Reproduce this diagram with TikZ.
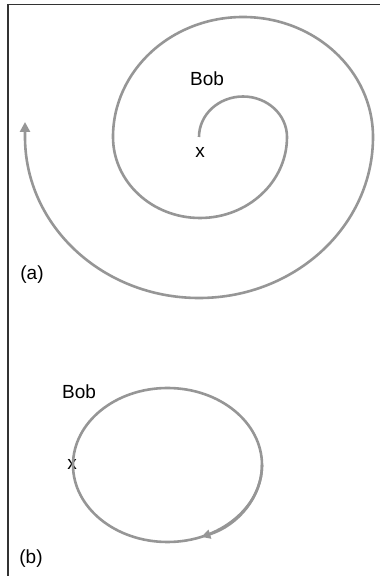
\documentclass[tikz,border=0pt]{standalone}
\usepackage{fontspec}
\setmainfont{Liberation Sans}
\usepackage{xcolor}
\usetikzlibrary{arrows.meta,positioning}

\definecolor{trackgray}{RGB}{150,150,150}

\begin{document}
\begin{tikzpicture}[
    x=1pt, y=1pt,
    every node/.style={font=\fontsize{19}{22}\selectfont, inner sep=0pt},
    track/.style={draw=trackgray, line width=2.6pt},
    frameline/.style={draw=black!80, line width=1.8pt}
]
    \useasboundingbox (0,0) rectangle (380,576);

    % Frame
    \draw[frameline] (8,0) -- (8,571.5) -- (380,571.5);

    % (a) spiral path
    \coordinate (starta) at (199,439);
    \node (boba) at (207,497) {Bob};
    \node (xa) at (200,424) {x};
    \node (labela) at (32,301) {(a)};
    \draw[track, -{Triangle[length=10pt,width=10pt]}] (starta)
        arc[start angle=180, end angle=0, x radius=44, y radius=40.5]
        arc[start angle=0, end angle=-180, x radius=87, y radius=81]
        arc[start angle=180, end angle=0, x radius=130, y radius=120]
        arc[start angle=0, end angle=-180, x radius=174, y radius=161]
        -- ++(0,15);

    % (b) closed orbit
    \coordinate (centerb) at (167.5,111);
    \node (bobb) at (79,184) {Bob};
    \node (xb) at (72,112) {x};
    \node (labelb) at (31,17) {(b)};
    \draw[track] (centerb) ellipse[x radius=94.5, y radius=77];
    \draw[track, -{Triangle[length=9pt,width=9pt]}] (centerb) ++(0:94.5 and 77)
        arc[start angle=0, end angle=-69, x radius=94.5, y radius=77];
\end{tikzpicture}
\end{document}
